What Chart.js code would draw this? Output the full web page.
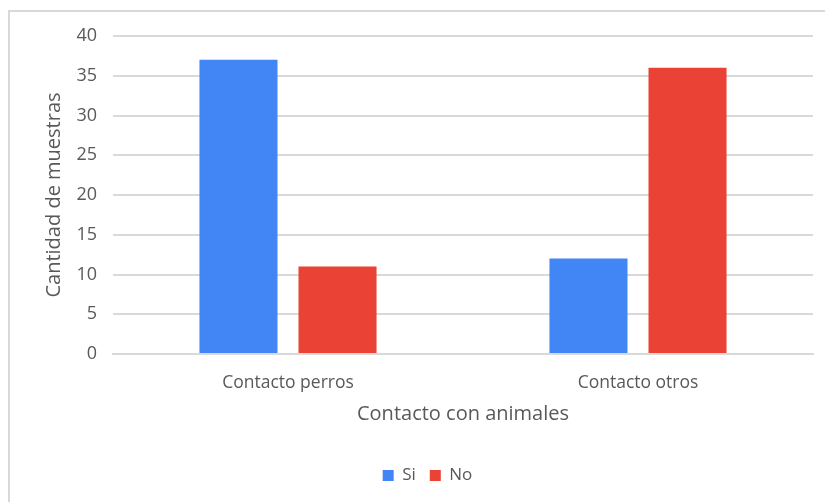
<!DOCTYPE html>
<html>
<head>
<meta charset="utf-8">
<script src="https://cdn.jsdelivr.net/npm/chart.js@4/dist/chart.umd.min.js"></script>
<style>
  html, body { margin: 0; padding: 0; background: #fff; overflow: hidden; }
  #frame {
    position: absolute; left: 8px; top: 10px; width: 900px; height: 600px;
    border: 2px solid #d9d9d9; box-sizing: border-box;
  }
  #wrap { position: absolute; left: 0; top: 0; width: 825px; height: 502px; }
</style>
</head>
<body>
<div id="frame"></div>
<div id="wrap"><canvas id="myChart"></canvas></div>
<script>
// categorías y series
const categorias = ['Contacto perros', 'Contacto otros'];
const valoresSi = [37, 12];
const valoresNo = [11, 36];
const ticksY = [0, 5, 10, 15, 20, 25, 30, 35, 40];

const fuente = "'Open Sans', 'Noto Sans', sans-serif";
const gris = '#595959';

document.addEventListener('DOMContentLoaded', function() {
    const ctx = document.getElementById('myChart').getContext('2d');
    new Chart(ctx, {
        type: 'bar',
        data: {
            labels: categorias,
            datasets: [{
                label: 'Si',
                data: valoresSi,
                backgroundColor: '#4285f4',
                categoryPercentage: 0.566,
                barPercentage: 0.788
            }, {
                label: 'No',
                data: valoresNo,
                backgroundColor: '#ea4335',
                categoryPercentage: 0.566,
                barPercentage: 0.788
            }]
        },
        options: {
            responsive: true,
            maintainAspectRatio: false,
            animation: false,
            layout: {
                padding: { left: 42, right: 12, top: 36, bottom: 8 }
            },
            plugins: {
                tooltip: { enabled: false },
                legend: {
                    position: 'bottom',
                    labels: {
                        boxWidth: 11,
                        boxHeight: 11,
                        padding: 14,
                        color: gris,
                        font: { family: fuente, size: 17 }
                    }
                }
            },
            scales: {
                x: {
                    afterFit: function(scale) { scale.height = 99; },
                    grid: { display: false, drawTicks: false },
                    border: { display: true, color: '#d9d9d9', width: 2 },
                    ticks: {
                        color: gris,
                        padding: 19,
                        font: { family: fuente, size: 17.5 }
                    },
                    title: {
                        display: true,
                        text: 'Contacto con animales',
                        color: gris,
                        padding: { top: 0, bottom: 27 },
                        font: { family: fuente, size: 20 }
                    }
                },
                y: {
                    min: 0,
                    max: 40,
                    afterFit: function(scale) { scale.width = 71; },
                    afterBuildTicks: function(scale) {
                        scale.ticks = ticksY.map(v => ({ value: v }));
                    },
                    grid: { color: '#d9d9d9', lineWidth: 2, drawTicks: false },
                    border: { display: false },
                    ticks: {
                        color: gris,
                        padding: 16,
                        font: { family: fuente, size: 18 }
                    },
                    title: {
                        display: true,
                        text: 'Cantidad de muestras',
                        color: gris,
                        padding: { top: 0, bottom: 0 },
                        font: { family: fuente, size: 20 }
                    }
                }
            }
        }
    });
});
</script>
</body>
</html>
